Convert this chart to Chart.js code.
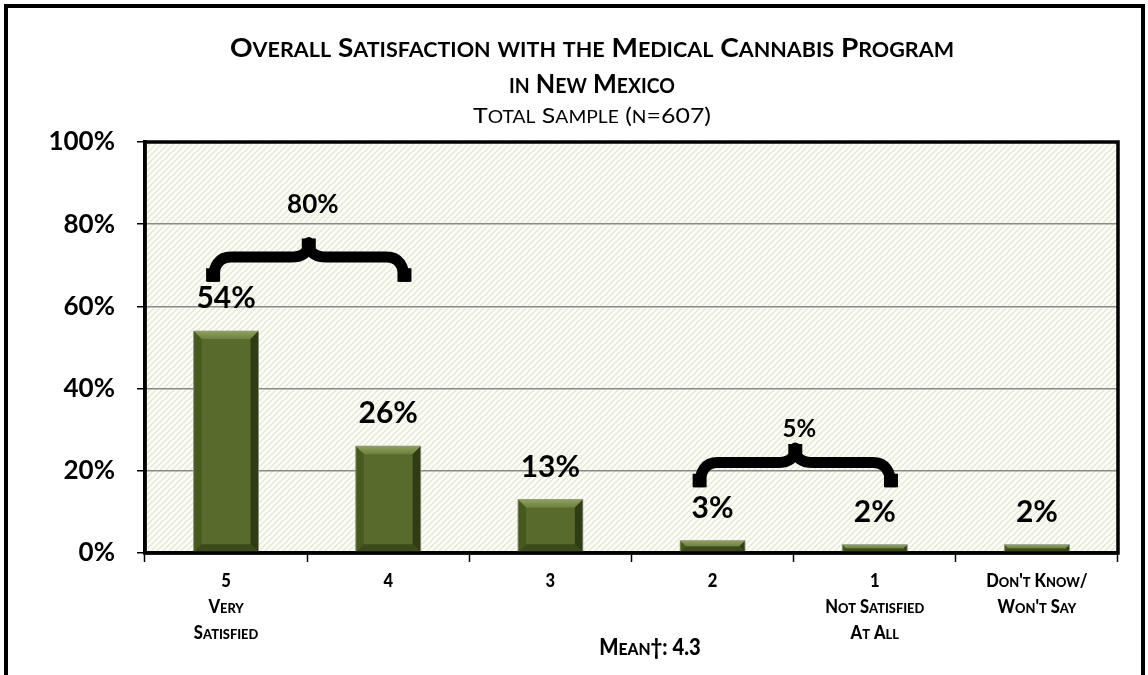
<!DOCTYPE html>
<html>
<head>
<meta charset="utf-8">
<script src="https://cdn.jsdelivr.net/npm/chart.js@4/dist/chart.umd.min.js"></script>
<style>
  body { margin: 0; background: #fff; }
  #wrap { width: 1148px; height: 675px; }
</style>
</head>
<body>
<div id="wrap"><canvas id="myChart" width="1148" height="675"></canvas></div>
<script>
// rating categories, each one a stack of label lines
var tickLines = [
  ['5', 'Very', 'Satisfied'],
  ['4'],
  ['3'],
  ['2'],
  ['1', 'Not Satisfied', 'At All'],
  ["Don't Know/", "Won't Say"]
];
var satisfaction = [54, 26, 13, 3, 2, 2];
var yTicks = [0, 20, 40, 60, 80, 100];

// combined groups shown with a brace (top 2 / bottom 2)
var groupFrom = [0, 3];
var groupTo = [1, 4];
var groupTotal = [80, 5];

var titleLines = ['Overall Satisfaction with the Medical Cannabis Program', 'in New Mexico'];
var subTitle = 'Total Sample (n=607)';
var meanText = 'Mean\u2020: 4.3';

var FONT = 'Lato, "Open Sans", sans-serif';

// draws text in small caps: lower case letters become smaller capitals.
// fitWidth squeezes the run to a given width, otherwise it is condensed a bit
function drawSmallCaps(ctx, text, x, y, big, weight, align, fitWidth) {
  var small = Math.round(big * 0.78);
  var runs = [];
  for (var i = 0; i < text.length; i++) {
    var ch = text[i];
    var isSmall = ch !== ch.toUpperCase();
    var last = runs[runs.length - 1];
    if (last && last.small === isSmall) last.t += ch.toUpperCase();
    else runs.push({ t: ch.toUpperCase(), small: isSmall });
  }
  var total = 0;
  runs.forEach(function (r) {
    ctx.font = weight + ' ' + (r.small ? small : big) + 'px ' + FONT;
    r.w = ctx.measureText(r.t).width;
    total += r.w;
  });
  var sx = fitWidth ? fitWidth / total : 0.92;
  var w = total * sx;
  var start = x;
  if (align === 'center') start = x - w / 2;
  else if (align === 'right') start = x - w;
  ctx.save();
  ctx.translate(start, y);
  ctx.scale(sx, 1);
  ctx.textAlign = 'left';
  ctx.textBaseline = 'alphabetic';
  var cx = 0;
  runs.forEach(function (r) {
    ctx.font = weight + ' ' + (r.small ? small : big) + 'px ' + FONT;
    ctx.fillText(r.t, cx, 0);
    cx += r.w;
  });
  ctx.restore();
}

function drawBrace(ctx, x1, x2, yEnd, yMid, yTop) {
  var xm = (x1 + x2) / 2;
  var r = 18;
  ctx.save();
  ctx.strokeStyle = '#000';
  ctx.lineWidth = 11;
  ctx.lineJoin = 'round';
  ctx.beginPath();
  ctx.moveTo(x1, yEnd);
  ctx.quadraticCurveTo(x1, yMid, x1 + r, yMid);
  ctx.lineTo(xm - r, yMid);
  ctx.quadraticCurveTo(xm, yMid, xm, yTop + 4);
  ctx.quadraticCurveTo(xm, yMid, xm + r, yMid);
  ctx.lineTo(x2 - r, yMid);
  ctx.quadraticCurveTo(x2, yMid, x2, yEnd);
  ctx.stroke();
  // slightly thicker tips
  ctx.lineWidth = 14;
  var h = (yEnd - yMid) * 0.55;
  ctx.beginPath();
  ctx.moveTo(x1, yEnd); ctx.lineTo(x1, yEnd - h);
  ctx.moveTo(x2, yEnd); ctx.lineTo(x2, yEnd - h);
  ctx.moveTo(xm, yTop); ctx.lineTo(xm, yTop + (yMid - yTop) * 0.5);
  ctx.stroke();
  ctx.restore();
}

function hatchPattern(ctx) {
  var c = document.createElement('canvas');
  c.width = 6; c.height = 6;
  var p = c.getContext('2d');
  p.fillStyle = '#fcfdf8';
  p.fillRect(0, 0, 6, 6);
  p.strokeStyle = '#e2e7d0';
  p.lineWidth = 1.3;
  p.beginPath();
  p.moveTo(-1, 7); p.lineTo(7, -1);
  p.moveTo(-1, 1); p.lineTo(1, -1);
  p.moveTo(5, 7); p.lineTo(7, 5);
  p.stroke();
  return ctx.createPattern(c, 'repeat');
}

var surveyPlugin = {
  id: 'surveyDecor',
  beforeDraw: function (chart) {
    var ctx = chart.ctx, a = chart.chartArea;
    ctx.save();
    ctx.fillStyle = '#fff';
    ctx.fillRect(0, 0, chart.width, chart.height);
    ctx.strokeStyle = '#000';
    ctx.lineWidth = 4;
    ctx.strokeRect(6, 6, chart.width - 11, chart.height + 20);
    ctx.fillStyle = hatchPattern(ctx);
    ctx.fillRect(a.left, a.top, a.right - a.left, a.bottom - a.top);
    ctx.restore();
  },
  afterDatasetsDraw: function (chart) {
    var ctx = chart.ctx;
    var meta = chart.getDatasetMeta(0);
    meta.data.forEach(function (bar, i) {
      var p = bar.getProps(['x', 'y', 'base', 'width'], true);
      var l = p.x - p.width / 2, r = p.x + p.width / 2, t = p.y, b = p.base;
      var bv = Math.min(8, (b - t) / 2);
      ctx.save();
      // bevel faces
      var topGrad = ctx.createLinearGradient(0, t, 0, t + bv);
      topGrad.addColorStop(0, '#8ea15c');
      topGrad.addColorStop(1, '#6d8240');
      ctx.fillStyle = topGrad;
      ctx.beginPath(); ctx.moveTo(l, t); ctx.lineTo(r, t); ctx.lineTo(r - bv, t + bv); ctx.lineTo(l + bv, t + bv); ctx.closePath(); ctx.fill();
      ctx.fillStyle = '#48591f';
      ctx.beginPath(); ctx.moveTo(l, t); ctx.lineTo(l + bv, t + bv); ctx.lineTo(l + bv, b - bv); ctx.lineTo(l, b); ctx.closePath(); ctx.fill();
      ctx.fillStyle = '#2f3c14';
      ctx.beginPath(); ctx.moveTo(r, t); ctx.lineTo(r - bv, t + bv); ctx.lineTo(r - bv, b - bv); ctx.lineTo(r, b); ctx.closePath(); ctx.fill();
      ctx.fillStyle = '#3b4a1b';
      ctx.beginPath(); ctx.moveTo(l, b); ctx.lineTo(l + bv, b - bv); ctx.lineTo(r - bv, b - bv); ctx.lineTo(r, b); ctx.closePath(); ctx.fill();
      ctx.strokeStyle = 'rgba(150,150,140,0.8)';
      ctx.lineWidth = 1;
      ctx.strokeRect(l, t, r - l, b - t);
      ctx.restore();

      // value label
      ctx.save();
      ctx.fillStyle = '#000';
      ctx.font = 'bold 30px ' + FONT;
      ctx.textAlign = 'center';
      ctx.textBaseline = 'alphabetic';
      ctx.fillText(satisfaction[i] + '%', p.x, t - 23);
      ctx.restore();
    });
  },
  afterDraw: function (chart, args, opts) {
    var ctx = chart.ctx, a = chart.chartArea;
    var xs = chart.scales.x, ys = chart.scales.y;

    // frame round the plot
    ctx.save();
    ctx.strokeStyle = '#000';
    ctx.lineWidth = 3.5;
    ctx.strokeRect(a.left, a.top, a.right - a.left, a.bottom - a.top);
    ctx.restore();

    // titles
    ctx.fillStyle = '#000';
    drawSmallCaps(ctx, titleLines[0], 592, 57, 26, 'bold', 'center', 724);
    drawSmallCaps(ctx, titleLines[1], 592, 93, 26, 'bold', 'center', 166);
    drawSmallCaps(ctx, subTitle, 592, 123, 22, 'normal', 'center', 238);

    // category labels
    tickLines.forEach(function (lines, i) {
      var x = xs.getPixelForValue(i);
      lines.forEach(function (s, k) {
        drawSmallCaps(ctx, s, x, 587 + k * 26, 18, '900', 'center');
      });
    });
    drawSmallCaps(ctx, meanText, 650, 655, 22, '900', 'center');

    // braces over the combined groups
    var step = xs.getPixelForValue(1) - xs.getPixelForValue(0);
    opts.levels.forEach(function (lv, g) {
      var x1 = xs.getPixelForValue(groupFrom[g]) - step * 0.08;
      var x2 = xs.getPixelForValue(groupTo[g]) + step * 0.1;
      drawBrace(ctx, x1, x2, ys.getPixelForValue(lv.end), ys.getPixelForValue(lv.mid), ys.getPixelForValue(lv.top));
      ctx.save();
      ctx.fillStyle = '#000';
      ctx.font = 'bold ' + lv.size + 'px ' + FONT;
      ctx.textAlign = 'center';
      ctx.textBaseline = 'alphabetic';
      ctx.fillText(groupTotal[g] + '%', (x1 + x2) / 2 + 4, ys.getPixelForValue(lv.label));
      ctx.restore();
    });
  }
};

var chartConfig = {
  type: 'bar',
  data: {
    labels: tickLines,
    datasets: [{
      data: satisfaction,
      backgroundColor: '#586b2d',
      borderWidth: 0,
      barPercentage: 0.4,
      categoryPercentage: 1
    }]
  },
  options: {
    responsive: false,
    animation: false,
    layout: { padding: { top: 142, right: 30, bottom: 122, left: 0 } },
    plugins: {
      legend: { display: false },
      title: { display: false },
      tooltip: { enabled: false },
      surveyDecor: {
        levels: [
          { end: 66, mid: 72, top: 76.5, label: 82.7, size: 26 },
          { end: 16, mid: 22, top: 26.5, label: 28.3, size: 24 }
        ]
      }
    },
    scales: {
      x: {
        ticks: { display: false },
        grid: { display: true, drawOnChartArea: false, drawTicks: true, tickLength: 9, tickColor: '#000', tickWidth: 1.5, offset: true },
        border: { color: '#000', width: 3.5 },
        afterFit: function (scale) { scale.height = 0; }
      },
      y: {
        min: 0,
        max: 100,
        afterBuildTicks: function (scale) {
          scale.ticks = yTicks.map(function (v) { return { value: v }; });
        },
        ticks: {
          color: '#000',
          padding: 22,
          font: { family: FONT, size: 26, weight: 'bold' },
          callback: function (v) { return v + '%'; }
        },
        grid: { color: '#8a8a8a', lineWidth: 1.5, tickLength: 8, tickColor: '#000', tickWidth: 1.5 },
        border: { color: '#000', width: 3.5 },
        afterFit: function (scale) { scale.width = 145; }
      }
    }
  },
  plugins: [surveyPlugin]
};

var myChart = new Chart(document.getElementById('myChart'), chartConfig);
</script>
</body>
</html>
